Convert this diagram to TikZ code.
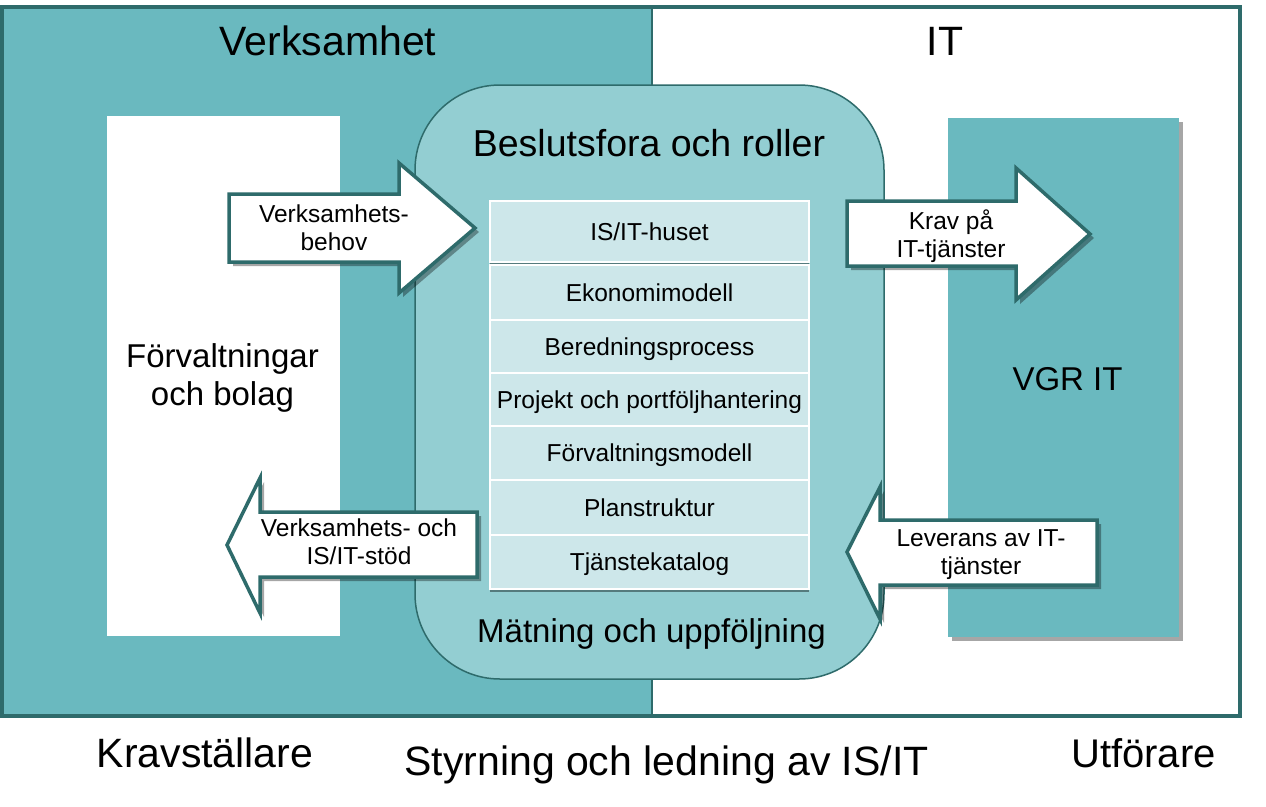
\documentclass[tikz,border=0pt]{standalone}
\usepackage{fontspec}
\setmainfont{Liberation Sans}
\usetikzlibrary{shadows}
\definecolor{frameteal}{HTML}{2E6B6B}
\definecolor{darkteal}{HTML}{6AB9BF}
\definecolor{lightteal}{HTML}{93CED2}
\definecolor{cellteal}{HTML}{CDE7EA}
\definecolor{cellshadow}{HTML}{557B7D}
\begin{document}
\begin{tikzpicture}[x=1pt,y=-1pt,
    every node/.style={inner sep=0pt, align=center},
    bigtext/.style={font=\fontsize{41}{48}\selectfont, anchor=base},
    titletext/.style={font=\fontsize{37.5}{44}\selectfont, anchor=base},
    midtext/.style={font=\fontsize{33}{38}\selectfont},
    smalltext/.style={font=\fontsize{24.5}{28}\selectfont},
    cellbox/.style={smalltext, fill=cellteal, draw=white, line width=1.5pt,
        minimum width=319pt, text height=17.5pt, text depth=0pt},
    blockarrow/.style={fill=white, draw=frameteal, line width=3.5pt,
        drop shadow={shadow xshift=4pt, shadow yshift=-4pt, fill=black, opacity=0.35}}
]
\fill[white] (0,0) rectangle (1266,806);
\useasboundingbox (0,0) rectangle (1266,806);

\fill[darkteal] (2,7) rectangle (652,716);
\draw[frameteal, line width=2.5pt] (652,7) -- (652,716);
\draw[frameteal, line width=4pt] (2,7) rectangle (1240,716);
\fill[white] (107,116) rectangle (340,636);
\fill[black!35] (952,122) rectangle (1183,641);
\fill[darkteal] (948,118) rectangle (1179,637);
\draw[frameteal, fill=lightteal, line width=1.5pt, rounded corners=85pt] (415,85) rectangle (884,679);

\fill[cellshadow] (490,204) rectangle (809,265);
\fill[cellshadow] (490,268) rectangle (809,592);
\node[cellbox, minimum height=61pt] (huset) at (649.5,231.5) {IS/IT-huset};
\node[cellbox, minimum height=55pt] (ekonomi) at (649.5,292.5) {Ekonomimodell};
\node[cellbox, minimum height=53pt] (bered) at (649.5,346.5) {Beredningsprocess};
\node[cellbox, minimum height=53pt] (projekt) at (649.5,399.5) {Projekt och portföljhantering};
\node[cellbox, minimum height=54pt] (forvmod) at (649.5,453) {Förvaltningsmodell};
\node[cellbox, minimum height=55pt] (plan) at (649.5,507.5) {Planstruktur};
\node[cellbox, minimum height=54pt] (katalog) at (649.5,562) {Tjänstekatalog};

\draw[blockarrow] (229,194) -- (399,194) -- (399,163) -- (475,228) -- (399,293) -- (399,262) -- (229,262) -- cycle;
\draw[blockarrow] (847,201) -- (1016,201) -- (1016,168) -- (1090,234) -- (1016,300) -- (1016,266) -- (847,266) -- cycle;
\draw[blockarrow] (477,512) -- (260,512) -- (260,478) -- (227,545) -- (260,613) -- (260,577) -- (477,577) -- cycle;
\draw[blockarrow] (1097,520) -- (880,520) -- (880,487) -- (847,552) -- (880,619) -- (880,585) -- (1097,585) -- cycle;

\node[smalltext] (behov) at (334,228) {Verksamhets-\\behov};
\node[smalltext] (kravit) at (951,236) {Krav på\\IT-tjänster};
\node[smalltext] (stod) at (359,542) {Verksamhets- och\\IS/IT-stöd};
\node[smalltext] (leverans) at (981,555) {Leverans av IT-\\tjänster};

\node[bigtext] (verks) at (328,55) {Verksamhet};
\node[bigtext] (it) at (945,55) {IT};
\node[titletext] (forum) at (649,156) {Beslutsfora och roller};
\node[midtext, anchor=base] (matning) at (651.5,642) {Mätning och uppföljning};
\node[midtext] (forv) at (222.5,377.5) {Förvaltningar\\och bolag};
\node[midtext, anchor=base] (vgr) at (1067.5,390) {VGR IT};
\node[bigtext] (krav) at (205,767) {Kravställare};
\node[bigtext] (styr) at (666.5,775) {Styrning och ledning av IS/IT};
\node[bigtext, font=\fontsize{40}{46}\selectfont] (utf) at (1143.5,767) {Utförare};
\end{tikzpicture}
\end{document}
